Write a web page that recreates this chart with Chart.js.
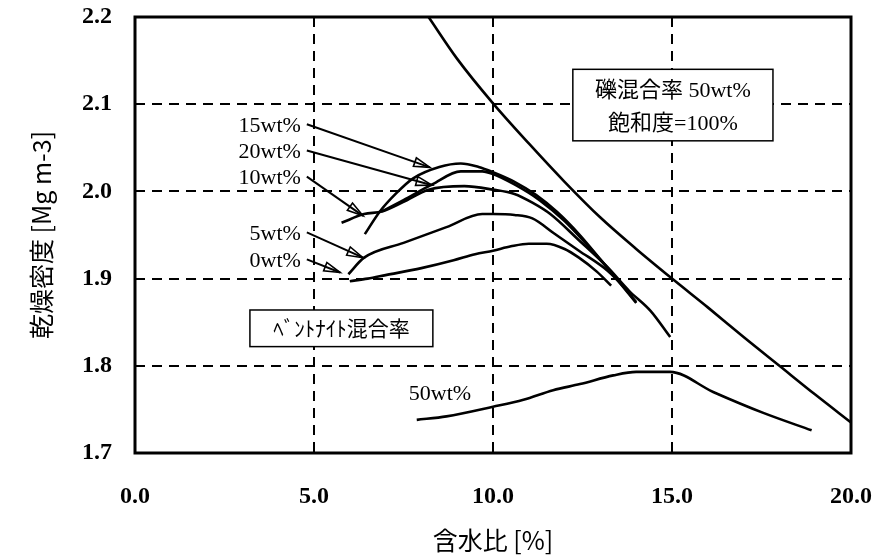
<!DOCTYPE html>
<html>
<head>
<meta charset="utf-8">
<script src="https://cdn.jsdelivr.net/npm/chart.js@4/dist/chart.umd.min.js"></script>
<style>
html,body{margin:0;padding:0;background:#fff;}
canvas{display:block;}
</style>
</head>
<body>
<canvas id="c" width="880" height="560"></canvas>
<script>
// ---- data ----
const xTicks = [0, 5, 10, 15, 20];
const yTicks = [1.7, 1.8, 1.9, 2.0, 2.1, 2.2];

const satX = [8.2, 9, 10, 11, 12, 13, 14, 15, 16, 17, 18, 19, 20];
const satY = [2.2, 2.152, 2.101, 2.055, 2.011, 1.970, 1.934, 1.900, 1.867, 1.833, 1.800, 1.767, 1.735];

const b0X = [6.0, 6.5, 7.0, 8.0, 8.9, 9.5, 10.0, 10.5, 11.0, 11.5, 12.0, 12.4, 12.9, 13.3];
const b0Y = [1.897, 1.900, 1.904, 1.912, 1.921, 1.928, 1.932, 1.937, 1.940, 1.940, 1.934, 1.924, 1.908, 1.892];

const b5X = [5.96, 6.4, 7.5, 8.7, 9.7, 10.0, 10.6, 11.1, 11.7, 12.4, 13.2, 13.9];
const b5Y = [1.905, 1.924, 1.941, 1.959, 1.974, 1.974, 1.973, 1.969, 1.952, 1.932, 1.909, 1.880];

const b10X = [5.77, 6.4, 6.9, 7.5, 8.2, 9.2, 10.0, 10.6, 11.1, 11.6, 12.4, 13.2, 13.8, 14.4, 14.95];
const b10Y = [1.964, 1.974, 1.977, 1.988, 2.002, 2.006, 2.002, 1.997, 1.987, 1.974, 1.944, 1.913, 1.886, 1.863, 1.833];

const b15X = [6.42, 6.84, 7.3, 7.77, 8.5, 9.1, 9.6, 10.0, 10.6, 11.2, 11.8, 12.4, 13.0, 13.6, 14.0];
const b15Y = [1.951, 1.977, 1.998, 2.015, 2.028, 2.032, 2.028, 2.022, 2.011, 1.996, 1.976, 1.951, 1.922, 1.893, 1.873];

const b20X = [6.9, 7.5, 8.3, 9.1, 9.7, 10.0, 10.6, 11.3, 12.0, 12.6, 13.2, 13.8, 14.0];
const b20Y = [1.977, 1.990, 2.008, 2.023, 2.023, 2.020, 2.008, 1.990, 1.966, 1.940, 1.912, 1.882, 1.872];

const b50X = [7.87, 8.7, 10.0, 10.85, 11.68, 12.43, 13.36, 14.0, 14.94, 16.15, 17.55, 18.9];
const b50Y = [1.738, 1.742, 1.753, 1.761, 1.772, 1.779, 1.789, 1.793, 1.793, 1.770, 1.746, 1.726];

const seriesLabels = ['15wt%', '20wt%', '10wt%', '5wt%', '0wt%'];
// arrow tail / head in data units
const arrowTailX = [4.80, 4.80, 4.80, 4.80, 4.80];
const arrowTailY = [2.077, 2.047, 2.017, 1.953, 1.922];
const arrowHeadX = [8.24, 8.30, 6.37, 6.37, 5.73];
const arrowHeadY = [2.0275, 2.007, 1.972, 1.924, 1.907];

const label50 = '50wt%';
const boxText1 = ['礫混合率 50wt%', '飽和度=100%'];
const boxText2 = 'ﾍﾞﾝﾄﾅｲﾄ混合率';

// ---- build ----
const zip = (xs, ys) => xs.map((x, i) => ({x: x, y: ys[i]}));
const lineDs = (xs, ys) => ({
  data: zip(xs, ys), borderColor: '#000', borderWidth: 2.6, pointRadius: 0,
  tension: 0.3, cubicInterpolationMode: 'monotone', fill: false
});

const serif = "'Liberation Serif', 'Noto Sans CJK JP', serif";

const deco = {
  id: 'deco',
  afterDatasetsDraw(chart) {
    const ctx = chart.ctx, xs = chart.scales.x, ys = chart.scales.y;
    const a = chart.chartArea;
    ctx.save();
    ctx.strokeStyle = '#000'; ctx.fillStyle = '#000';
    ctx.font = "22px " + serif;
    ctx.textAlign = 'right'; ctx.textBaseline = 'middle';
    for (let i = 0; i < seriesLabels.length; i++) {
      const tx = xs.getPixelForValue(arrowTailX[i]), ty = ys.getPixelForValue(arrowTailY[i]);
      const hx = xs.getPixelForValue(arrowHeadX[i]), hy = ys.getPixelForValue(arrowHeadY[i]);
      ctx.fillText(seriesLabels[i], tx - 6, ty + 2);
      ctx.lineWidth = 2;
      ctx.beginPath(); ctx.moveTo(tx, ty); ctx.lineTo(hx, hy); ctx.stroke();
      const ang = Math.atan2(hy - ty, hx - tx), L = 16, W = 4.5;
      const bx = hx - L * Math.cos(ang), by = hy - L * Math.sin(ang);
      const px = -Math.sin(ang) * W, py = Math.cos(ang) * W;
      ctx.lineWidth = 1.6;
      ctx.beginPath(); ctx.moveTo(hx, hy); ctx.lineTo(bx + px, by + py); ctx.lineTo(bx - px, by - py); ctx.closePath();
      ctx.stroke();
    }
    ctx.textAlign = 'center';
    ctx.fillText(label50, xs.getPixelForValue(8.52), ys.getPixelForValue(1.767));
    ctx.lineWidth = 1.5;
    let l = xs.getPixelForValue(12.23), r = xs.getPixelForValue(17.82);
    let t = ys.getPixelForValue(2.140), b = ys.getPixelForValue(2.058);
    ctx.fillStyle = '#fff'; ctx.fillRect(l, t, r - l, b - t);
    ctx.strokeRect(l, t, r - l, b - t);
    ctx.fillStyle = '#000';
    ctx.font = "22px " + serif;
    ctx.fillText(boxText1[0], (l + r) / 2, ys.getPixelForValue(2.115));
    ctx.fillText(boxText1[1], (l + r) / 2, ys.getPixelForValue(2.077));
    l = xs.getPixelForValue(3.21); r = xs.getPixelForValue(8.32);
    t = ys.getPixelForValue(1.864); b = ys.getPixelForValue(1.822);
    ctx.fillStyle = '#fff'; ctx.fillRect(l, t, r - l, b - t);
    ctx.strokeRect(l, t, r - l, b - t);
    ctx.fillStyle = '#000';
    ctx.font = "21px 'Noto Sans CJK JP', sans-serif";
    ctx.fillText(boxText2, (l + r) / 2, ys.getPixelForValue(1.843));
    ctx.lineWidth = 3;
    ctx.strokeRect(a.left, a.top, a.right - a.left, a.bottom - a.top);
    ctx.restore();
  }
};

new Chart(document.getElementById('c'), {
  type: 'line',
  data: {
    datasets: [
      lineDs(satX, satY), lineDs(b0X, b0Y), lineDs(b5X, b5Y), lineDs(b10X, b10Y),
      lineDs(b15X, b15Y), lineDs(b20X, b20Y), lineDs(b50X, b50Y)
    ]
  },
  options: {
    responsive: false, animation: false, devicePixelRatio: 1,
    layout: {padding: {top: 17, right: 29, left: 0, bottom: 0}},
    plugins: {legend: {display: false}, tooltip: {enabled: false}},
    scales: {
      x: {
        type: 'linear', min: 0, max: 20,
        afterBuildTicks: s => { s.ticks = xTicks.map(v => ({value: v})); },
        afterFit: s => { s.height = 107; s.paddingLeft = 0; s.paddingRight = 0; },
        grid: {color: '#000', lineWidth: 2, drawTicks: false},
        border: {display: false, dash: [10, 7]},
        ticks: {color: '#000', padding: 29, font: {family: 'Liberation Serif', size: 24, weight: 'bold'},
                callback: v => Number(v).toFixed(1)},
        title: {display: true, text: '含水比 [%]', color: '#000', padding: {top: 0, bottom: 5},
                font: {family: "'Noto Sans CJK JP', sans-serif", size: 25}}
      },
      y: {
        type: 'linear', min: 1.7, max: 2.2,
        afterBuildTicks: s => { s.ticks = yTicks.map(v => ({value: v})); },
        afterFit: s => { s.width = 135; s.paddingTop = 0; s.paddingBottom = 0; },
        grid: {color: '#000', lineWidth: 2, drawTicks: false},
        border: {display: false, dash: [10, 7]},
        ticks: {color: '#000', padding: 23, font: {family: 'Liberation Serif', size: 24, weight: 'bold'},
                callback: v => Number(v).toFixed(1)},
        title: {display: true, text: '乾燥密度 [Mg m-3]', color: '#000', padding: {top: 26, bottom: 0},
                font: {family: "'Noto Sans CJK JP', sans-serif", size: 25}}
      }
    }
  },
  plugins: [deco]
});
</script>
</body>
</html>
